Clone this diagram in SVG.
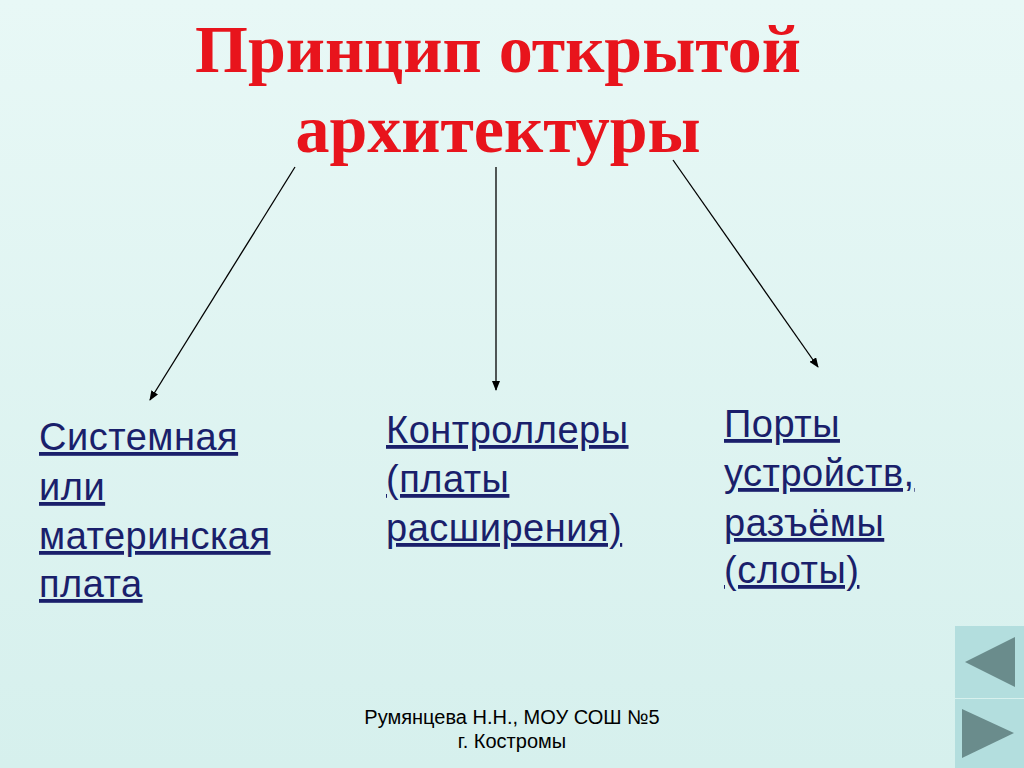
<svg xmlns="http://www.w3.org/2000/svg" width="1024" height="768" viewBox="0 0 1024 768">
<style>
.t{font-family:"Liberation Serif",serif;font-weight:bold;font-size:68px;fill:#e8141c;text-anchor:middle}
.b{font-family:"Liberation Sans",sans-serif;font-size:38px;letter-spacing:0.5px;fill:#1a1f6b;text-decoration:underline}
.f{font-family:"Liberation Sans",sans-serif;font-size:20px;fill:#000;text-anchor:middle}
.c{stroke:#000;stroke-width:1.3;fill:none;marker-end:url(#a)}
</style>
<defs>
<linearGradient id="bg" x1="0" y1="0" x2="0" y2="1"><stop offset="0" stop-color="#e8f8f6"/><stop offset="1" stop-color="#d6f0ed"/></linearGradient>
<marker id="a" markerWidth="10" markerHeight="8" refX="9" refY="4" orient="auto" markerUnits="userSpaceOnUse"><path d="M0,0 L10,4 L0,8 Z" fill="#000"/></marker>
</defs>
<rect width="1024" height="768" fill="url(#bg)"/>
<g id="title"><text class="t" x="498" y="72">Принцип открытой</text><text class="t" x="498" y="152">архитектуры</text></g>
<g id="connectors">
<line class="c" x1="295" y1="167" x2="150" y2="400"/>
<line class="c" x1="496" y1="167" x2="496" y2="390"/>
<line class="c" x1="673" y1="160" x2="818" y2="367"/>
</g>
<g id="n1"><text class="b" x="39" y="450">Системная</text><text class="b" x="39" y="500">или</text><text class="b" x="39" y="549">материнская</text><text class="b" x="39" y="597">плата</text></g>
<g id="n2"><text class="b" x="386" y="443">Контроллеры</text><text class="b" x="386" y="492">(платы</text><text class="b" x="386" y="541">расширения)</text></g>
<g id="n3"><text class="b" x="724" y="437">Порты</text><text class="b" x="724" y="486">устройств,</text><text class="b" x="724" y="536">разъёмы</text><text class="b" x="724" y="583">(слоты)</text></g>
<g id="footer"><text class="f" x="512" y="724">Румянцева Н.Н.,  МОУ СОШ №5</text><text class="f" x="512" y="748">г. Костромы</text></g>
<g id="nav">
<rect x="955" y="626" width="69" height="72" fill="#b3dede"/>
<rect x="955" y="699" width="69" height="69" fill="#b3dede"/>
<polygon points="965,662 1015,637 1015,687" fill="#6a8c8c"/>
<polygon points="962,709 962,758 1014,733" fill="#6a8c8c"/>
</g>
</svg>
